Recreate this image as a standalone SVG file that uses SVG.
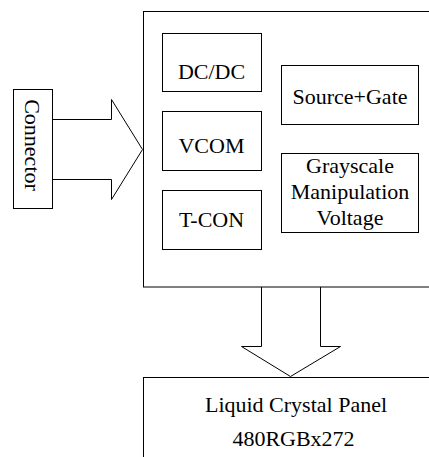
<svg xmlns="http://www.w3.org/2000/svg" width="429" height="457" viewBox="0 0 429 457">
<style>
.b{fill:#fff;stroke:#000;stroke-width:1}
.c{fill:none;stroke:#000;stroke-width:1}
.t{font-size:22px;fill:#000;text-anchor:middle}
</style>
<rect width="429" height="457" fill="#fff"/>
<g font-family="Liberation Serif, serif">
<g id="driver"><rect class="b" x="143.5" y="11.5" width="300" height="275.5"/></g>
<g id="connector"><rect class="b" x="13.5" y="89.5" width="39" height="119"/>
<text class="t" font-family="Liberation Serif, serif" transform="translate(24.5,145) rotate(90)" font-size="20">Connector</text></g>
<g id="dcdc"><rect class="b" x="162.5" y="33.5" width="99" height="58"/><text class="t" font-family="Liberation Serif, serif" x="211.5" y="78.5">DC/DC</text></g>
<g id="vcom"><rect class="b" x="162.5" y="111.5" width="99" height="59"/><text class="t" font-family="Liberation Serif, serif" x="211.5" y="152.5">VCOM</text></g>
<g id="tcon"><rect class="b" x="162.5" y="190.5" width="99" height="59"/><text class="t" font-family="Liberation Serif, serif" x="211.5" y="226.5">T-CON</text></g>
<g id="sourcegate"><rect class="b" x="281.5" y="65.5" width="137" height="59"/><text class="t" font-family="Liberation Serif, serif" x="350" y="103.5">Source+Gate</text></g>
<g id="grayscale"><rect class="b" x="281.5" y="153.5" width="137" height="79"/>
<text class="t" font-family="Liberation Serif, serif" x="350" y="173">Grayscale</text><text class="t" font-family="Liberation Serif, serif" x="350" y="199">Manipulation</text><text class="t" font-family="Liberation Serif, serif" x="350" y="225">Voltage</text></g>
<g id="panel"><rect class="b" x="143.5" y="377.5" width="300" height="100"/>
<text class="t" font-family="Liberation Serif, serif" x="296" y="412">Liquid Crystal Panel</text><text class="t" font-family="Liberation Serif, serif" x="293.5" y="446">480RGBx272</text></g>
</g>
<g id="connectors">
<path class="c" d="M52.5,119.5 H111.5 V99.5 L142.5,149.5 L111.5,199.5 V179.5 H52.5"/>
<path class="c" d="M261.5,287 V346.5 H241.5 L290.5,376.5 L340.5,346.5 H320.5 V287"/>
</g>
</svg>
